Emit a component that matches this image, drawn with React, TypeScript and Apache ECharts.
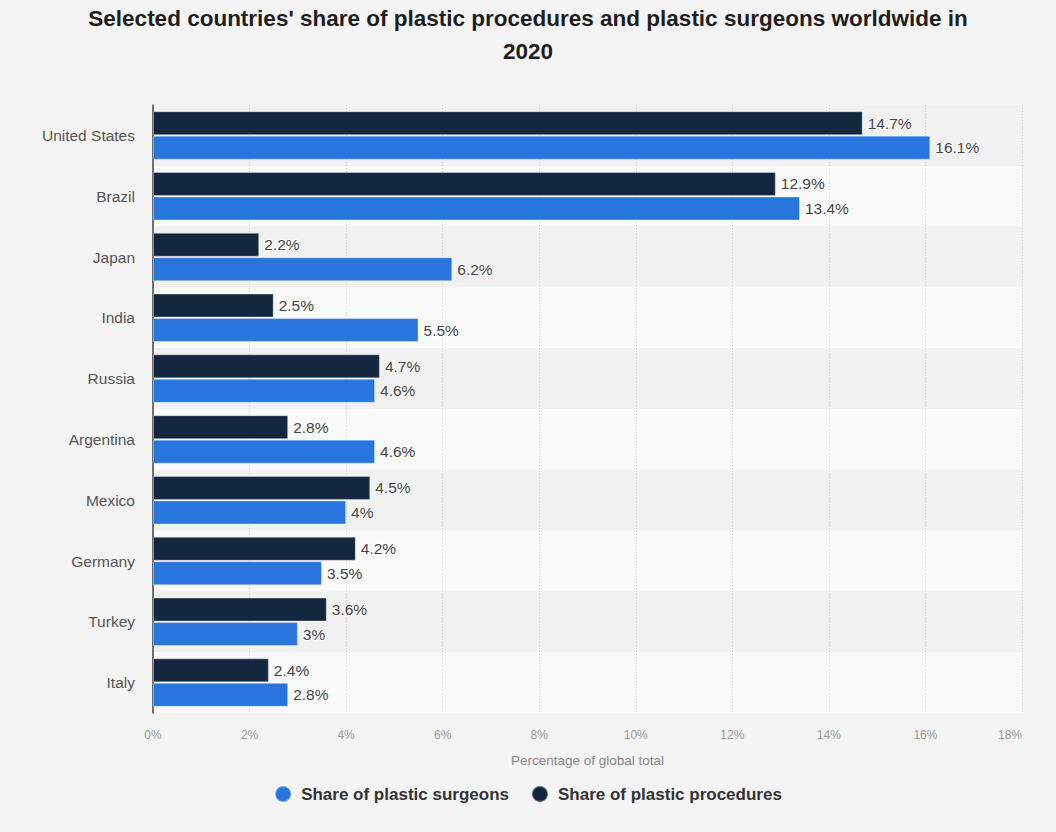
import React, { useEffect, useRef } from "react";
import * as echarts from "echarts";

const countries = [
  "United States",
  "Brazil",
  "Japan",
  "India",
  "Russia",
  "Argentina",
  "Mexico",
  "Germany",
  "Turkey",
  "Italy",
];
const surgeonsShare = [16.1, 13.4, 6.2, 5.5, 4.6, 4.6, 4, 3.5, 3, 2.8];
const proceduresShare = [14.7, 12.9, 2.2, 2.5, 4.7, 2.8, 4.5, 4.2, 3.6, 2.4];
const xTicks = [0, 2, 4, 6, 8, 10, 12, 14, 16, 18];

const SURGEONS = "Share of plastic surgeons";
const PROCEDURES = "Share of plastic procedures";

export default function App() {
  const ref = useRef<HTMLDivElement>(null);

  useEffect(() => {
    if (!ref.current) return;
    const chart = echarts.init(ref.current, undefined, { renderer: "svg" });
    const font = "'Liberation Sans', Arial, Helvetica, sans-serif";
    const labelStyle = {
      show: true,
      position: "right" as const,
      distance: 5,
      formatter: (p: any) => `${p.value}%`,
      color: "#444",
      fontSize: 15.5,
      fontFamily: font,
      textBorderColor: "rgba(255,255,255,0.9)",
      textBorderWidth: 2,
    };
    chart.setOption({
      animation: false,
      backgroundColor: "#f4f4f4",
      title: {
        text: "Selected countries' share of plastic procedures and plastic surgeons worldwide in\n2020",
        left: "center",
        top: -3,
        textStyle: {
          fontFamily: font,
          fontSize: 22.5,
          fontWeight: "bold",
          color: "#1e1e1e",
          lineHeight: 33,
        },
      },
      legend: {
        data: [SURGEONS, PROCEDURES],
        bottom: 24,
        left: "center",
        icon: "circle",
        itemWidth: 16,
        itemHeight: 16,
        itemGap: 22,
        textStyle: {
          fontFamily: font,
          fontSize: 17,
          fontWeight: "bold",
          color: "#333",
          padding: [0, 0, 0, 5],
        },
      },
      grid: { left: 153, right: 34, top: 105, bottom: 119 },
      xAxis: {
        type: "value",
        min: xTicks[0],
        max: xTicks[xTicks.length - 1],
        interval: 2,
        name: "Percentage of global total",
        nameLocation: "middle",
        nameGap: 40,
        nameTextStyle: { fontFamily: font, fontSize: 13.5, color: "#888" },
        axisLine: { show: false },
        axisTick: { show: false },
        axisLabel: {
          formatter: (v: number) => `${v}%`,
          fontFamily: font,
          fontSize: 12,
          color: "#999",
          margin: 16,
          alignMaxLabel: "right",
        },
        splitLine: {
          show: true,
          lineStyle: { color: "#cfcfcf", type: [1, 2], width: 1 },
        },
      },
      yAxis: {
        type: "category",
        data: countries,
        inverse: true,
        axisLine: { show: true, lineStyle: { color: "#444", width: 1.5 } },
        axisTick: { show: false },
        axisLabel: {
          fontFamily: font,
          fontSize: 15.5,
          color: "#555",
          margin: 18,
        },
        splitArea: {
          show: true,
          areaStyle: { color: ["#f1f1f1", "#fafafa"] },
        },
      },
      series: [
        {
          name: PROCEDURES,
          type: "bar",
          data: proceduresShare,
          barWidth: 24,
          barGap: "2%",
          barCategoryGap: "21%",
          itemStyle: {
            color: "#13273f",
            borderColor: "rgba(255,255,255,0.35)",
            borderWidth: 1,
          },
          label: labelStyle,
        },
        {
          name: SURGEONS,
          type: "bar",
          data: surgeonsShare,
          barWidth: 24,
          barGap: "2%",
          barCategoryGap: "21%",
          itemStyle: {
            color: "#2876dd",
            borderColor: "rgba(255,255,255,0.35)",
            borderWidth: 1,
          },
          label: labelStyle,
        },
      ],
    });
    return () => chart.dispose();
  }, []);

  return (
    <div
      ref={ref}
      style={{ position: "absolute", left: 0, top: 0, width: 1056, height: 832 }}
    />
  );
}
